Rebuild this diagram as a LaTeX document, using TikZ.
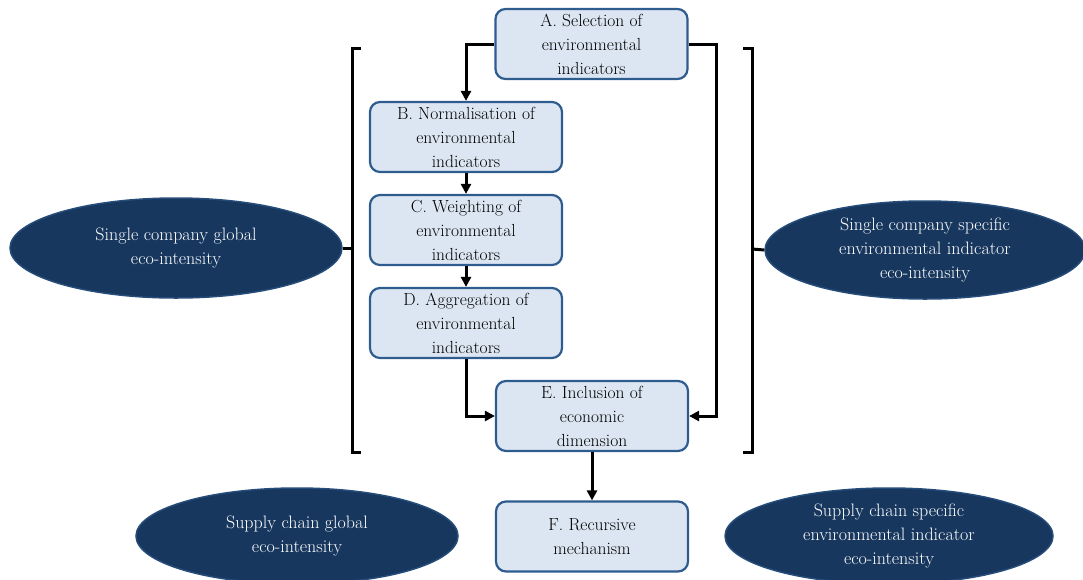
\documentclass[tikz,border=0pt]{standalone}
\usepackage{fontspec}
\usetikzlibrary{arrows.meta,shapes.geometric}
\definecolor{boxfill}{HTML}{DCE6F2}
\definecolor{boxline}{HTML}{2E5C8F}
\definecolor{ellfill}{HTML}{17375E}
\definecolor{ellline}{HTML}{264C7A}
\tikzset{
  stepbox/.style={draw=boxline, fill=boxfill, line width=2.2pt, rounded corners=10pt,
    minimum width=192pt, minimum height=70pt, align=center, inner sep=2pt,
    font=\fontsize{17.5}{24}\selectfont},
  ell/.style={ellipse, draw=ellline, fill=ellfill, line width=1.5pt, text=white,
    align=center, inner sep=0pt, font=\fontsize{18}{24}\selectfont},
  arr/.style={line width=3pt, -{Triangle[length=10pt,width=10pt]}},
  brk/.style={line width=3pt},
}
\begin{document}
\begin{tikzpicture}[x=1pt,y=-1pt]
\useasboundingbox (0,0) rectangle (1083,579);
% boxes
\node[stepbox] (A) at (591.5,44) {A. Selection of\\environmental\\indicators};
\node[stepbox] (B) at (466,137) {B. Normalisation of\\environmental\\indicators};
\node[stepbox] (C) at (466,230) {C. Weighting of\\environmental\\indicators};
\node[stepbox] (D) at (466,323) {D. Aggregation of\\environmental\\indicators};
\node[stepbox] (E) at (592,416) {E. Inclusion of\\economic\\dimension};
\node[stepbox] (F) at (592,536.5) {F. Recursive\\mechanism};
% ellipses
\node[ell, minimum width=332pt, minimum height=100pt] (L) at (176,248) {Single company global\\eco-intensity};
\node[ell, minimum width=320pt, minimum height=98pt] (R) at (925,250) {Single company specific\\environmental indicator\\eco-intensity};
\node[ell, minimum width=322pt, minimum height=96pt] (SL) at (297,536) {Supply chain global\\eco-intensity};
\node[ell, minimum width=328pt, minimum height=96pt] (SR) at (889,536) {Supply chain specific\\environmental indicator\\eco-intensity};
% connectors
\draw[arr] (A.west) -| (B.north);
\draw[arr] (A.east) -- ++(28,0) |- (E.east);
\draw[arr] (B.south) -- (C.north);
\draw[arr] (C.south) -- (D.north);
\draw[arr] (D.south) |- (E.west);
\draw[arr] (E.south) -- (F.north);
% brackets
\coordinate (lb) at (352,248);
\coordinate (rb) at (752,249);
\draw[brk] (361,48) -- (352,48) -- (352,452) -- (361,452);
\draw[brk] (lb) -- (L.east);
\draw[brk] (743,48) -- (752,48) -- (752,452) -- (743,452);
\draw[brk] (rb) -- (R.west);
\end{tikzpicture}
\end{document}
